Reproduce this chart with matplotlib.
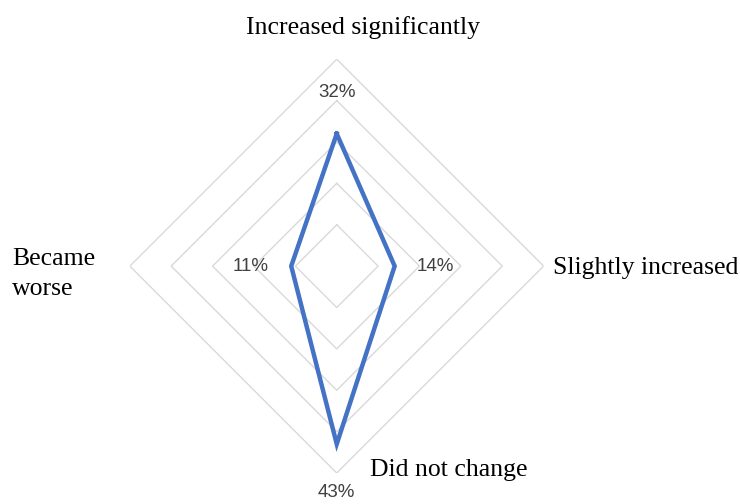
import numpy as np
import matplotlib
matplotlib.use("Agg")
import matplotlib.pyplot as plt

categories = ["Increased significantly", "Slightly increased", "Did not change", "Became worse"]
values = [32, 14, 43, 11]
value_labels = ["32%", "14%", "43%", "11%"]
grid_levels = [10, 20, 30, 40, 50]

angles = np.arange(len(categories)) * 2 * np.pi / len(categories)
closed_angles = np.append(angles, angles[0])

fig = plt.figure(figsize=(7.4, 5.04), dpi=100)
ax = fig.add_axes([0.1753, 0.0615, 0.5595, 0.821], projection="polar")
ax.set_theta_offset(np.pi / 2)
ax.set_theta_direction(-1)
ax.set_ylim(0, 50)
ax.grid(False)
ax.set_xticks([])
ax.set_yticks([])
ax.spines["polar"].set_visible(False)

# diamond gridlines
for lvl in grid_levels:
    ax.plot(closed_angles, [lvl] * len(closed_angles), color="#d9d9d9", lw=1.0, zorder=1)

ax.plot(closed_angles, values + [values[0]], color="#4472c4", lw=3.2, zorder=3,
        solid_joinstyle="miter")

# value labels, pushed outward from each point
offsets = [(0, 30), (29, 0), (0, -35), (-29, 0)]
for a, v, lab, off in zip(angles, values, value_labels, offsets):
    ax.annotate(lab, xy=(a, v), xytext=off, textcoords="offset points",
                ha="center", va="center", fontsize=13.5, color="#404040",
                family="Liberation Sans", annotation_clip=False)

# category labels
serif = dict(family="Liberation Serif", fontsize=18.5, color="black")
fig.text(363 / 740, 1 - 28 / 504, categories[0], ha="center", va="center", **serif)
fig.text(553 / 740, 1 - 268 / 504, categories[1], ha="left", va="center", **serif)
fig.text(370 / 740, 1 - 470 / 504, categories[2], ha="left", va="center", **serif)
fig.text(12 / 740, 1 - 274 / 504, "Became\nworse", ha="left", va="center",
         linespacing=1.45, **serif)

fig.savefig("out.png", dpi=100)
